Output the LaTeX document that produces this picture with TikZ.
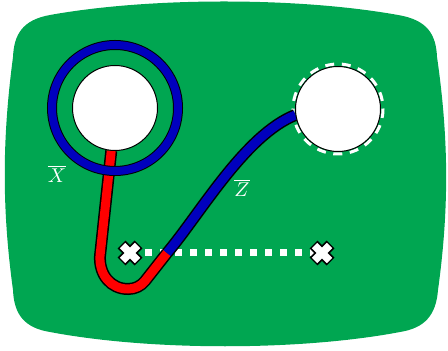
\documentclass[tikz,border=0pt]{standalone}
\usetikzlibrary{positioning, backgrounds}
\definecolor{board}{RGB}{0,166,81}
\definecolor{loopblue}{RGB}{0,0,190}
\definecolor{loopred}{RGB}{255,0,0}

\tikzset{
  crossmark/.pic={
    \draw[black, line width=5.5pt] (-8.5,-8.5) -- (8.5,8.5) (-8.5,8.5) -- (8.5,-8.5);
    \draw[white, line width=3.75pt] (-7.5,-7.5) -- (7.5,7.5) (-7.5,7.5) -- (7.5,-7.5);
  }
}

\begin{document}
\begin{tikzpicture}[
  x=0.5pt, y=-0.5pt,
  hole/.style={circle, draw, line width=0.5pt, fill=white, minimum size=42.5pt, inner sep=0pt},
  lbl/.style={text=white, inner sep=1pt},
  border/.style={draw=black, line width=6pt},
  wire/.style={line width=4.5pt}
]
\useasboundingbox (0,0) rectangle (448,351);

\node[hole] (holeX) at (115,108) {};
\node[hole] (holeZ) at (338,109) {};

\coordinate (ca)   at (130,253);
\coordinate (cb)   at (322,253);
\coordinate (kink) at (100,256);
\coordinate (low)  at (128,289);
\coordinate (turn) at (145,281);
\coordinate (mid)  at (167,253);

\begin{scope}[on background layer]
% the board
\fill[board] (50,15) .. controls (150,-3) and (298,-3) .. (398,15)
  .. controls (428,20) and (436,35) .. (437,57)
  .. controls (449,140) and (449,210) .. (438,290)
  .. controls (436,315) and (425,328) .. (400,332)
  .. controls (300,351) and (150,351) .. (50,332)
  .. controls (25,328) and (14,315) .. (13,290)
  .. controls (2,210) and (2,140) .. (13,57)
  .. controls (14,35) and (22,20) .. cycle;

\draw[white, line width=3.5pt, dash pattern=on 3.5pt off 4pt] (ca) -- (cb);
\draw[white, line width=1.5pt, dash pattern=on 4.5pt off 3.8pt] (holeZ.center) circle[radius=45];

% the loop
\draw[border] (holeX.265) -- (kink) .. controls (99,275) and (111,289) .. (low)
  .. controls (135,289) and (141,286) .. (turn) -- (mid);
\draw[border] (mid) .. controls (200,214) and (245,135) .. (holeZ.188);
\draw[wire, loopred] (holeX.265) -- (kink) .. controls (99,275) and (111,289) .. (low)
  .. controls (135,289) and (141,286) .. (turn) -- (mid);
\draw[wire, loopblue] (mid) .. controls (200,214) and (245,135) .. (holeZ.188);

\draw[black, line width=5pt] (holeX.center) circle[radius=63];
\draw[loopblue, line width=4pt] (holeX.center) circle[radius=63];
\end{scope}

\pic at (ca) {crossmark};
\pic at (cb) {crossmark};

\node[lbl] (lblX) at (57,174) {$\overline{X}$};
\node[lbl] (lblZ) at (242,188) {$\overline{Z}$};

\end{tikzpicture}
\end{document}
